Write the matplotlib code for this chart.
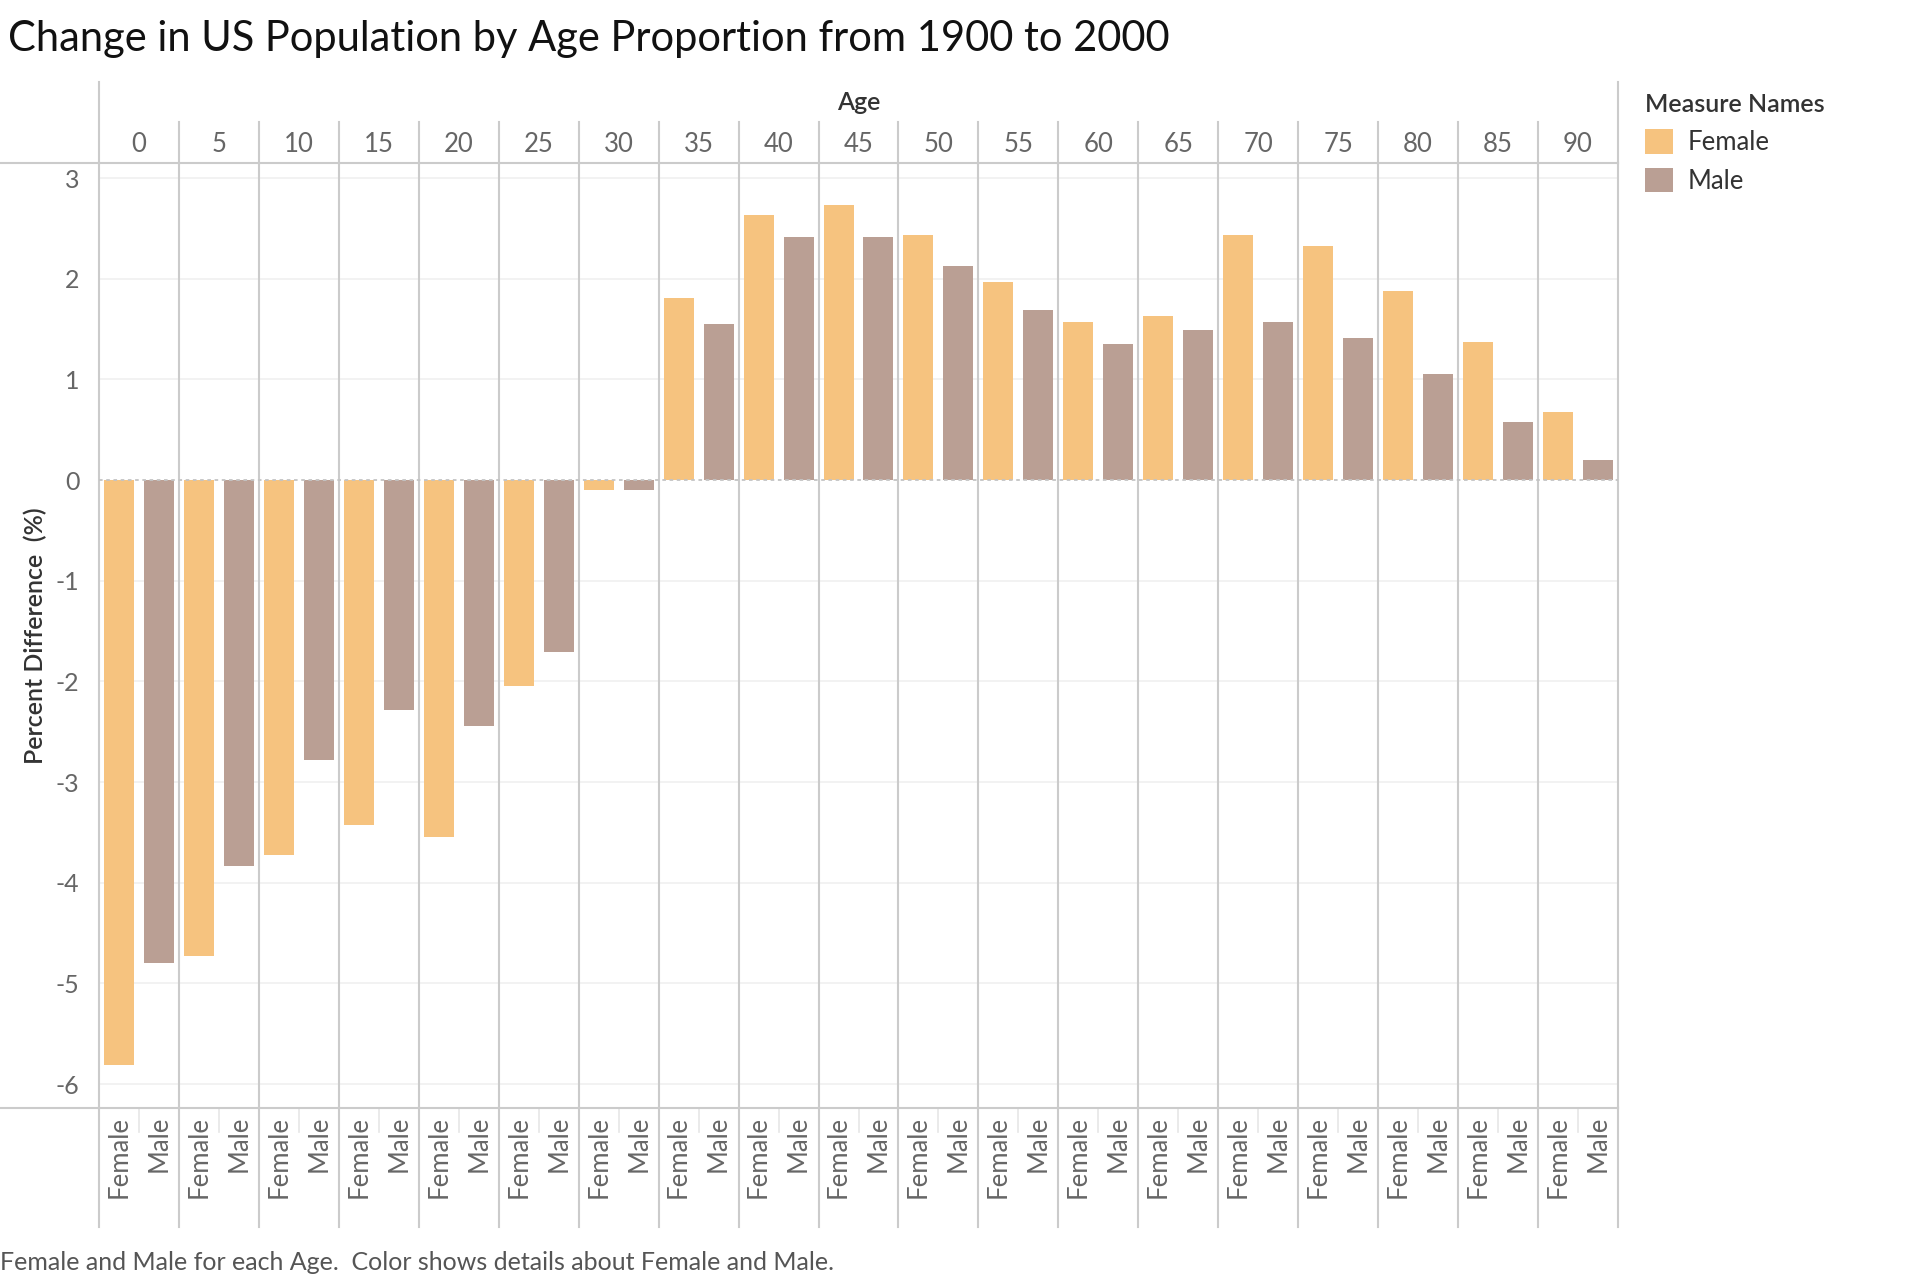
"""
Change in US Population by Age Proportion from 1900 to 2000 - Tableau style bar chart
"""
import matplotlib
matplotlib.use("Agg")
import matplotlib.pyplot as plt
from matplotlib.lines import Line2D
import numpy as np

# 数据
ages = [0, 5, 10, 15, 20, 25, 30, 35, 40, 45, 50, 55, 60, 65, 70, 75, 80, 85, 90]
female = [-5.81, -4.73, -3.72, -3.43, -3.55, -2.05, -0.10, 1.81, 2.63, 2.73,
          2.43, 1.97, 1.57, 1.63, 2.43, 2.32, 1.88, 1.37, 0.68]
male = [-4.80, -3.83, -2.78, -2.28, -2.44, -1.71, -0.10, 1.55, 2.41, 2.41,
        2.13, 1.69, 1.35, 1.49, 1.57, 1.41, 1.05, 0.58, 0.20]
series_names = ["Female", "Male"]
y_ticks = [3, 2, 1, 0, -1, -2, -3, -4, -5, -6]

# 样式
FEMALE_COLOR = "#F6C37F"
MALE_COLOR = "#BA9F94"
LINE_COLOR = "#CBCBCB"
GRID_COLOR = "#F0F0F0"
TEXT_GRAY = "#666666"
TEXT_DARK = "#333333"

plt.rcParams["font.family"] = ["Lato", "DejaVu Sans"]

W, H = 1922, 1280
fig = plt.figure(figsize=(W / 100, H / 100), dpi=100)
fig.patch.set_facecolor("white")

left_px, right_px = 99, 1618
top_px, bottom_px = 163, 1108


def fx(px):
    return px / W


def fy(px):
    return 1 - px / H


ax_w = fx(right_px) - fx(left_px)
ax = fig.add_axes([fx(left_px), fy(bottom_px), ax_w, fy(top_px) - fy(bottom_px)])
head = fig.add_axes([fx(left_px), fy(top_px), ax_w, fy(82) - fy(top_px)])
foot = fig.add_axes([fx(left_px), fy(1227), ax_w, fy(bottom_px) - fy(1227)])

n = len(ages)
x = np.arange(n)
bar_w = 0.375

# 主图
ax.bar(x + 0.25, female, width=bar_w, color=FEMALE_COLOR, label=series_names[0], zorder=3)
ax.bar(x + 0.75, male, width=bar_w, color=MALE_COLOR, label=series_names[1], zorder=3)
ax.set_xlim(0, n)
ax.set_ylim(-6.238, 3.149)
ax.set_yticks(y_ticks)
ax.set_yticklabels([str(t) for t in y_ticks])
ax.set_xticks([])
ax.tick_params(axis="y", length=0, pad=14, labelsize=18, labelcolor=TEXT_GRAY)
for t in y_ticks:
    if t != 0:
        ax.axhline(t, color=GRID_COLOR, lw=1.2, zorder=1)
ax.axhline(0, color="#C4C4C4", lw=1.3, ls=(0, (2, 2)), zorder=4)
for i in range(1, n):
    ax.axvline(i, color=LINE_COLOR, lw=1.5, zorder=2)
for side in ["top", "bottom"]:
    ax.spines[side].set_visible(False)
for side in ["left", "right"]:
    ax.spines[side].set_color(LINE_COLOR)
    ax.spines[side].set_linewidth(1.5)
ax.set_ylabel("Percent Difference  (%)", fontsize=18, color=TEXT_DARK, fontweight="semibold")
ax.yaxis.set_label_coords(-0.034, 0.5)

# 顶部表头
head.set_xlim(0, n)
head.set_ylim(0, 1)
head.axis("off")
for i in range(0, n + 1):
    y_top = 1 if i in (0, n) else (163 - 122) / 81
    head.plot([i, i], [0, y_top], color=LINE_COLOR, lw=1.5, clip_on=False)
for i, a in enumerate(ages):
    head.text(i + 0.5, (163 - 144) / 81, str(a), ha="center", va="center",
              fontsize=18.5, color=TEXT_GRAY)
head.text(n / 2, (163 - 103) / 81, "Age", ha="center", va="center",
          fontsize=18, color=TEXT_DARK, fontweight="semibold")

# 底部标签
foot.set_xlim(0, n)
foot.set_ylim(0, 1)
foot.axis("off")
for i in range(0, n + 1):
    foot.plot([i, i], [0, 1], color=LINE_COLOR, lw=1.5, clip_on=False)
for i in range(n):
    foot.plot([i + 0.5, i + 0.5], [1, 0.8], color="#E6E6E6", lw=1.2)
    for off, name in zip([0.25, 0.75], series_names):
        foot.text(i + off, 1 - 8 / 119, name, rotation=90, ha="center", va="top",
                  fontsize=18.5, color=TEXT_GRAY)

# 横向长线
for ypx in (top_px, bottom_px):
    fig.add_artist(Line2D([0, fx(right_px)], [fy(ypx), fy(ypx)],
                          color=LINE_COLOR, lw=1.5, transform=fig.transFigure))

# 标题 / 图例 / 脚注
fig.text(fx(8), fy(39), "Change in US Population by Age Proportion from 1900 to 2000",
         ha="left", va="center", fontsize=30, color="#111111")

handles, labels = ax.get_legend_handles_labels()
leg = fig.legend(handles, labels, title="Measure Names", loc="upper left",
                 bbox_to_anchor=(fx(1645), fy(93)), frameon=False, fontsize=18.5,
                 title_fontsize=18, alignment="left", handlelength=1.1,
                 handleheight=1.1, handletextpad=0.55, labelspacing=0.5,
                 borderaxespad=0, borderpad=0)
leg.get_title().set_color(TEXT_DARK)
leg.get_title().set_fontweight("semibold")
for txt in leg.get_texts():
    txt.set_color(TEXT_DARK)

fig.text(0, fy(1262), "Female and Male for each Age.  Color shows details about Female and Male.",
         ha="left", va="center", fontsize=18, color="#555555")

fig.savefig("out.png", dpi=100)
